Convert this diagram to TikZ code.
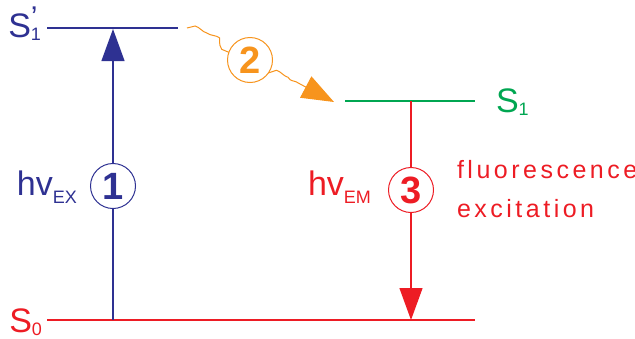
\documentclass[tikz,border=0pt]{standalone}
\usepackage{fontspec}
\setmainfont{Liberation Sans}
\newfontfamily\spacedfont[LetterSpace=14]{Liberation Sans}
\usetikzlibrary{arrows.meta,decorations.pathmorphing}
\definecolor{lvlblue}{HTML}{2E3192}
\definecolor{lvlred}{HTML}{ED1C24}
\definecolor{lvlgreen}{HTML}{00A651}
\definecolor{lvlorange}{HTML}{F7941D}
\newcommand{\subtxt}[2]{\raisebox{-#1}{\fontsize{9}{9}\selectfont #2}}
\begin{document}
\begin{tikzpicture}[x=0.5pt,y=-0.5pt,inner sep=0pt,outer sep=0pt,
  every node/.style={font=\fontsize{17}{17}\selectfont},
  level/.style={line width=0.6pt},
  step_num/.style={circle,draw,fill=white,line width=0.5pt,minimum size=22.5pt,
    font=\fontsize{19}{19}\selectfont\bfseries},
  big_tip/.style={-{Triangle[length=16pt,width=11.5pt]}},
  wavy/.style={decorate,decoration={snake,amplitude=1pt,segment length=13pt}}]
  \useasboundingbox (0,0) rectangle (635,338);
  % energy levels
  \coordinate (s1p_l) at (47,28);
  \coordinate (s1p_r) at (178,28);
  \coordinate (s1_l) at (345,101);
  \coordinate (s1_r) at (475,101);
  \coordinate (s0_l) at (47,320);
  \coordinate (s0_r) at (475,320);
  \draw[level,lvlblue] (s1p_l) -- (s1p_r);
  \draw[level,lvlgreen] (s1_l) -- (s1_r);
  \draw[level,lvlred] (s0_l) -- (s0_r);
  \node[anchor=base east,text=lvlblue] (s1p_label) at (41,37)
    {S\rlap{\raisebox{0.28em}{\fontsize{15}{15}\selectfont ’}}\subtxt{1.5pt}{1}};
  \node[anchor=base west,text=lvlgreen] (s1_label) at (496,112) {S\subtxt{1.5pt}{1}};
  \node[anchor=base east,text=lvlred] (s0_label) at (42,332) {S\subtxt{1.5pt}{0}};
  % excitation
  \coordinate (ex_base) at (113,320);
  \coordinate (ex_top) at (113,29);
  \draw[lvlblue,line width=0.6pt,big_tip] (ex_base) -- (ex_top);
  \node[step_num,draw=lvlblue,text=lvlblue] (step_1) at (113,186) {1};
  \node[anchor=base west,text=lvlblue] (ex_label) at (17,195) {hv\subtxt{4pt}{EX}};
  % relaxation
  \coordinate (ic_start) at (187,28);
  \coordinate (ic_tip) at (334,102);
  \node[step_num,draw=lvlorange,text=lvlorange] (step_2) at (250,60) {2};
  \draw[lvlorange,line width=0.5pt,wavy]
    (ic_start) .. controls (210,28) and (214,48) .. (step_2.160);
  \draw[lvlorange,line width=0.5pt,wavy,decoration={post length=17pt},
    -{Triangle[length=16pt,width=12pt]}]
    (step_2.-35) .. controls (280,72) and (292,80) .. (ic_tip);
  % emission
  \coordinate (em_top) at (411,101);
  \coordinate (em_base) at (411,320);
  \draw[lvlred,line width=0.6pt,big_tip] (em_top) -- (em_base);
  \node[step_num,draw=lvlred,text=lvlred] (step_3) at (411,190) {3};
  \node[anchor=base west,text=lvlred] (em_label) at (308,195) {hv\subtxt{4pt}{EM}};
  \node[anchor=base west,align=left,text=lvlred,
    font=\spacedfont\fontsize{12.5}{19.5}\selectfont] (fl_label) at (457,217)
    {fluorescence\\excitation};
\end{tikzpicture}
\end{document}
